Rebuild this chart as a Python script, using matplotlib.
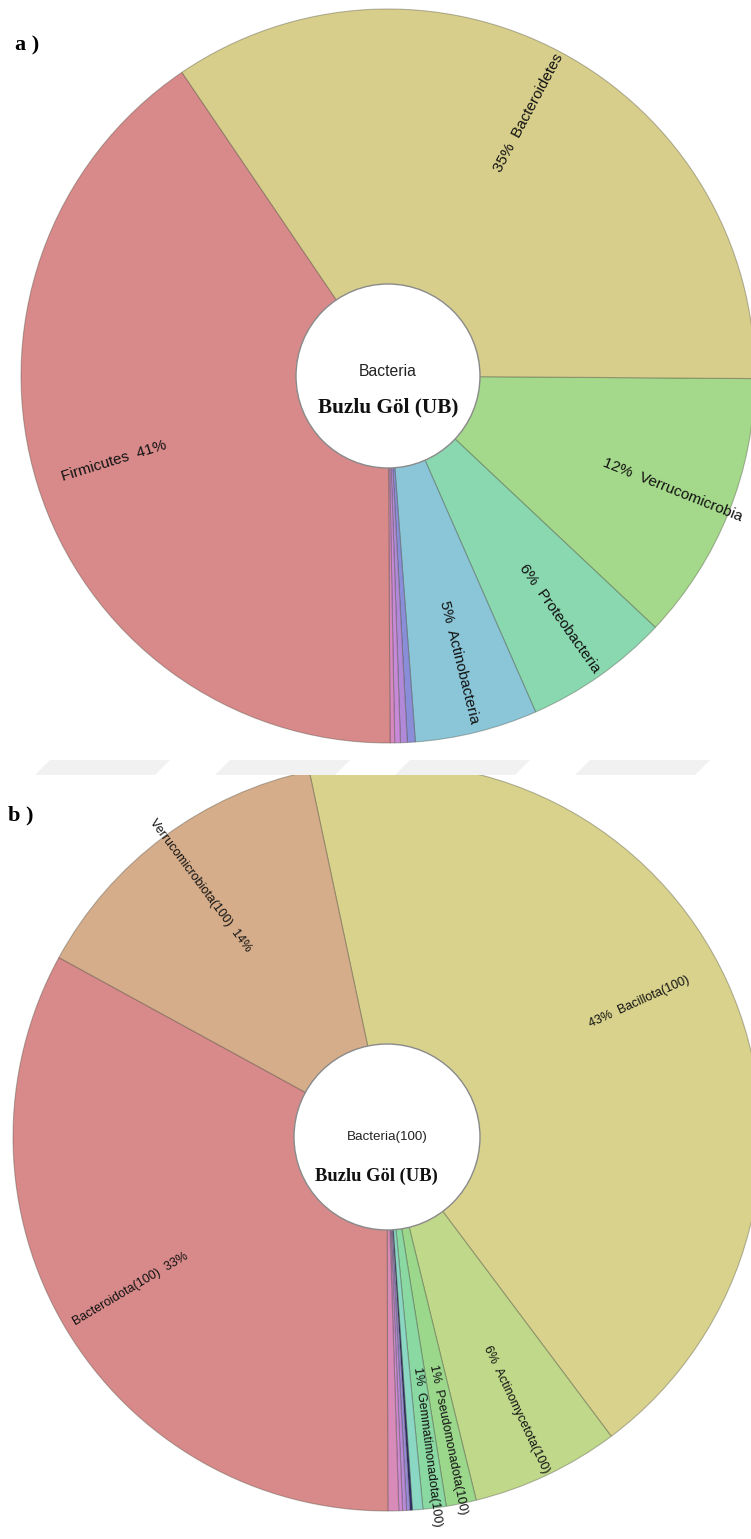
import matplotlib.pyplot as plt
from matplotlib.patches import Circle, Polygon
import numpy as np

# panel a (clockwise from the first wedge)
names_a = ["Verrucomicrobia", "Proteobacteria", "Actinobacteria", "", "", "", "", "Firmicutes", "Bacteroidetes"]
values_a = [11.9, 6.4, 5.4, 0.35, 0.3, 0.25, 0.2, 40.6, 34.6]
colors_a = ["#a4d88a", "#8ad8b0", "#8ac6d8", "#8a8ed8", "#b08ad8", "#c88ad8", "#d88ac0", "#d88a8a", "#d8ce8c"]

# panel b
names_b = ["Bacillota(100)", "Actinomycetota(100)", "Pseudomonadota(100)", "Gemmatimonadota(100)",
           "", "", "", "", "", "", "Bacteroidota(100)", "Verrucomicrobiota(100)"]
values_b = [43.1, 6.4, 1.3, 1.0, 0.45, 0.1, 0.15, 0.17, 0.16, 0.47, 33.0, 13.7]
colors_b = ["#d8d28c", "#c0d88a", "#9cd88c", "#8ad8a2", "#8ad8c4", "#2a2a6a", "#9a8ad8",
            "#b88ad8", "#d08ad4", "#d88ab8", "#d88a8a", "#d6ad8a"]
# extra angle (deg) for a few labels
shift_b = [4.6, 0, 0, 0, 0, 0, 0, 0, 0, 0, 0, 0]

W, H = 751, 1539
fig = plt.figure(figsize=(W / 100, H / 100), dpi=100)

edge = (0.25, 0.25, 0.2, 0.35)


def krona(ax, names, values, colors, center, R, r_in, start, r_lab, fs, shifts=None):
    wedges, _ = ax.pie(values, colors=colors, startangle=start, counterclock=False, radius=R,
                       center=center, wedgeprops=dict(edgecolor=edge, linewidth=0.8))
    for w in wedges:
        w.set_clip_on(True)
    ax.add_patch(Circle(center, r_in, facecolor="white", edgecolor="#8a8a8a", linewidth=1.0, zorder=5))
    if shifts is None:
        shifts = [0] * len(values)
    total = sum(values)
    a0 = start
    for name, v, sh in zip(names, values, shifts):
        span = v / total * 360
        mid = a0 - span / 2
        a0 -= span
        if not name:
            continue
        t = np.deg2rad(mid + sh)
        x = center[0] + r_lab * np.cos(t)
        y = center[1] + r_lab * np.sin(t)
        pct = f"{round(v)}%"
        if np.cos(t) >= 0:
            ax.text(x, y, f"{pct}  {name}", rotation=mid, rotation_mode="anchor",
                    ha="left", va="center", fontsize=fs, family="Liberation Sans", color="#111111")
        else:
            ax.text(x, y, f"{name}  {pct}", rotation=mid + 180, rotation_mode="anchor",
                    ha="right", va="center", fontsize=fs, family="Liberation Sans", color="#111111")


ha_a = 760
ax_a = fig.add_axes([0, (H - ha_a) / H, 1, ha_a / H])
ca = (388, ha_a - 376)
krona(ax_a, names_a, values_a, colors_a, ca, 367, 92, -0.4, 232, 11)
ax_a.text(ca[0], ca[1] + 4, "Bacteria", ha="center", va="center", fontsize=11.3,
          family="Liberation Sans", color="#222222", zorder=6)
ax_a.text(ca[0], ca[1] - 31, "Buzlu Göl (UB)", ha="center", va="center", fontsize=15.3,
          family="Liberation Serif", weight="bold", color="#111111", zorder=6)
ax_a.set_xlim(0, W)
ax_a.set_ylim(0, ha_a)
ax_a.axis("off")
ax_a.text(15, ha_a - 45, "a )", fontsize=16, family="Liberation Serif", weight="bold", va="center")

hb = 764
ax_b = fig.add_axes([0, 0, 1, hb / H])
cb = (387, H - 1137)
krona(ax_b, names_b, values_b, colors_b, cb, 374, 93, 102, 232, 9, shift_b)
ax_b.text(cb[0], cb[1], "Bacteria(100)", ha="center", va="center", fontsize=9.6,
          family="Liberation Sans", color="#222222", zorder=6)
ax_b.text(cb[0] - 11, cb[1] - 39, "Buzlu Göl (UB)", ha="center", va="center", fontsize=13.3,
          family="Liberation Serif", weight="bold", color="#111111", zorder=6)
ax_b.set_xlim(0, W)
ax_b.set_ylim(0, hb)
ax_b.axis("off")
ax_b.text(8, H - 815, "b )", fontsize=16, family="Liberation Serif", weight="bold", va="center")

# faint watermark band between the panels
for x0 in [35, 215, 395, 575]:
    pts = [(x0, 775), (x0 + 15, 760), (x0 + 135, 760), (x0 + 120, 775)]
    fig.patches.append(Polygon([(px / W, 1 - py / H) for px, py in pts], closed=True,
                               transform=fig.transFigure, facecolor="#f1f1f1", edgecolor="none",
                               zorder=-1))

fig.savefig("out.png", dpi=100)
